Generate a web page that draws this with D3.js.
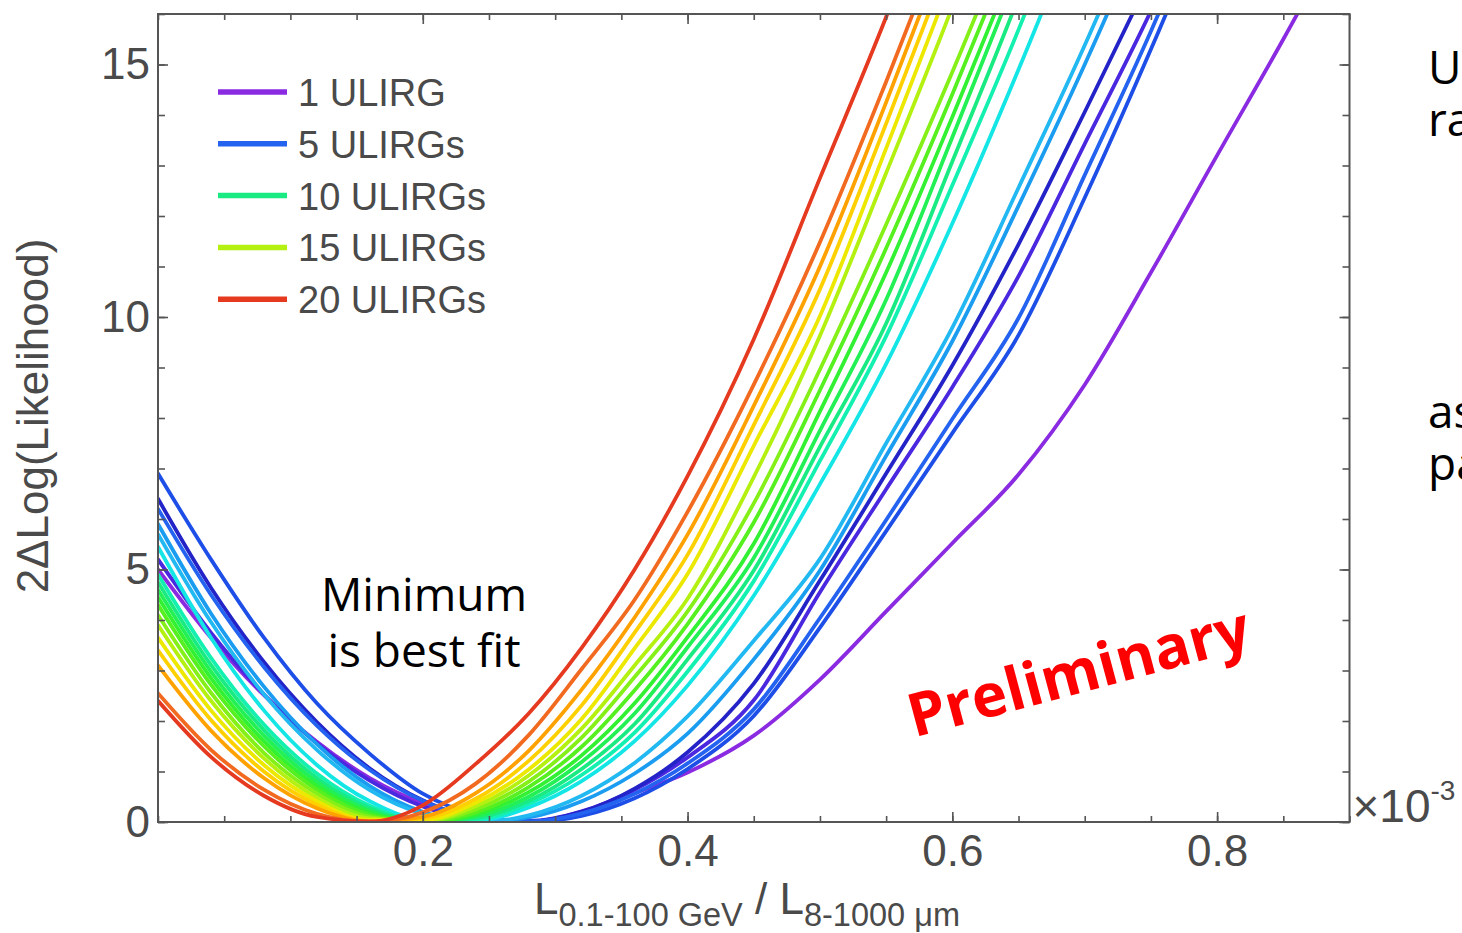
<!DOCTYPE html>
<html>
<head>
<meta charset="utf-8">
<script src="https://cdn.jsdelivr.net/npm/d3@7"></script>
<style>
  html, body { margin: 0; padding: 0; background: #fff; overflow: hidden; }
  svg { display: block; }
</style>
</head>
<body>
<svg id="chart" width="1462" height="933"></svg>
<script>
// Gamma-ray / IR luminosity ratio (x 10^-3) at which every profile is sampled
const ratioGrid = [0, 0.04, 0.08, 0.12, 0.16, 0.2, 0.24, 0.28, 0.32, 0.36, 0.4,
                   0.45, 0.5, 0.55, 0.6, 0.65, 0.7, 0.75, 0.8, 0.85, 0.9];

// 2ΔLog(Likelihood) profiles, one per number of stacked ULIRGs
const stack01 = [5.0, 3.65, 2.51, 1.59, 0.87, 0.37, 0.08, 0.0, 0.2, 0.57, 0.98, 1.71, 2.82, 4.17, 5.52, 6.88, 8.66, 10.88, 13.2, 15.5, 17.9];
const stack02 = [5.2, 3.75, 2.53, 1.56, 0.82, 0.31, 0.05, 0.02, 0.21, 0.64, 1.28, 2.41, 4.55, 6.59, 8.61, 10.81, 13.43, 16.06, 19.0];
const stack03 = [6.4, 4.64, 3.17, 1.98, 1.06, 0.43, 0.08, 0.01, 0.20, 0.66, 1.38, 2.74, 4.78, 6.90, 9.04, 11.44, 14.06, 16.75];
const stack04 = [6.9, 5.2, 3.65, 2.35, 1.35, 0.56, 0.14, 0.0, 0.12, 0.47, 1.05, 2.10, 3.85, 5.76, 7.70, 9.64, 12.36, 15.3, 18.43];
const stack05 = [6.2, 4.50, 3.07, 1.91, 1.03, 0.42, 0.08, 0.01, 0.17, 0.56, 1.16, 2.23, 4.04, 5.98, 7.98, 9.98, 12.81, 15.66, 18.77];
const stack06 = [5.9, 4.13, 2.68, 1.54, 0.71, 0.20, 0.0, 0.09, 0.41, 0.96, 1.75, 3.22, 4.98, 7.25, 9.52, 12.2, 15.0, 17.98];
const stack07 = [5.7, 3.96, 2.53, 1.43, 0.63, 0.16, 0.0, 0.13, 0.52, 1.17, 2.09, 3.59, 5.21, 7.50, 9.79, 12.56, 15.38, 18.42];
const stack08 = [5.45, 3.65, 2.21, 1.13, 0.41, 0.05, 0.03, 0.29, 0.81, 1.60, 2.70, 4.48, 6.69, 9.07, 11.85, 14.9, 18.14];
const stack09 = [4.9, 3.25, 1.93, 0.96, 0.32, 0.02, 0.05, 0.36, 0.93, 1.77, 2.98, 4.77, 7.15, 9.62, 12.61, 15.69, 19.06];
const stack10 = [4.75, 3.11, 1.82, 0.87, 0.27, 0.01, 0.08, 0.42, 1.05, 1.94, 3.22, 4.98, 7.43, 9.87, 13.08, 16.33, 19.96];
const stack11 = [4.6, 2.98, 1.71, 0.79, 0.22, 0.0, 0.11, 0.50, 1.19, 2.15, 3.46, 5.23, 7.75, 10.34, 13.56, 16.84];
const stack12 = [4.45, 2.85, 1.60, 0.71, 0.18, 0.0, 0.15, 0.59, 1.32, 2.35, 3.66, 5.51, 8.13, 10.88, 13.96, 17.16];
const stack13 = [4.3, 2.72, 1.50, 0.64, 0.14, 0.0, 0.19, 0.69, 1.49, 2.61, 3.92, 5.93, 8.55, 11.36, 14.41, 17.61];
const stack14 = [4.1, 2.56, 1.37, 0.56, 0.10, 0.01, 0.25, 0.80, 1.67, 2.87, 4.17, 6.31, 8.96, 11.83, 14.85, 18.05];
const stack15 = [3.9, 2.40, 1.26, 0.48, 0.07, 0.02, 0.31, 0.92, 1.85, 3.10, 4.42, 6.83, 9.63, 12.85, 16.14, 19.7];
const stack16 = [3.65, 2.21, 1.13, 0.41, 0.04, 0.04, 0.38, 1.04, 2.04, 3.44, 4.91, 7.45, 10.02, 13.34, 16.73];
const stack17 = [3.4, 2.02, 1.00, 0.34, 0.02, 0.07, 0.46, 1.21, 2.31, 3.75, 5.29, 7.86, 10.55, 13.83, 17.22];
const stack18 = [3.1, 1.81, 0.87, 0.27, 0.01, 0.10, 0.57, 1.41, 2.62, 4.05, 5.69, 8.24, 11.0, 14.25, 17.66];
const stack19 = [2.55, 1.43, 0.64, 0.16, 0.0, 0.19, 0.76, 1.72, 3.03, 4.40, 6.14, 8.66, 11.48, 14.66, 18.0];
const stack20 = [2.4, 1.29, 0.52, 0.10, 0.01, 0.33, 1.15, 2.15, 3.45, 5.00, 6.85, 9.56, 12.75, 15.94, 19.4];

const stackCounts = [1, 2, 3, 4, 5, 6, 7, 8, 9, 10, 11, 12, 13, 14, 15, 16, 17, 18, 19, 20];
const stackProfiles = [stack01, stack02, stack03, stack04, stack05, stack06, stack07, stack08, stack09, stack10,
                       stack11, stack12, stack13, stack14, stack15, stack16, stack17, stack18, stack19, stack20];
const stackColors = ["#8a2be2", "#4a28e0", "#2323c8", "#1d4fe8", "#2462f0", "#1a9cf0", "#22b8f2", "#14e6e6",
                     "#14f0b0", "#1aea82", "#22f054", "#32f032", "#56f020", "#84f018", "#b4f010", "#ece800",
                     "#ffd000", "#ffa200", "#f26a20", "#e63a20"];

// Legend
const legendCounts = [1, 5, 10, 15, 20];
const legendLabels = ["1 ULIRG", "5 ULIRGs", "10 ULIRGs", "15 ULIRGs", "20 ULIRGs"];

// Axis tick labels
const xTickLabels = [0.2, 0.4, 0.6, 0.8];
const yTickLabels = [0, 5, 10, 15];

const svg = d3.select("#chart");
const plotLeft = 158, plotRight = 1349.5, plotTop = 14, plotBottom = 822;
const axisFont = "'Liberation Sans', Arial, sans-serif";
const textFont = "'Open Sans', 'Noto Sans', sans-serif";
const axisInk = "#4a4a4a";

const x = d3.scaleLinear().domain([0, 0.9]).range([plotLeft, plotRight]);
const y = d3.scaleLinear().domain([0, 16]).range([plotBottom, plotTop]);

svg.append("rect").attr("width", 1462).attr("height", 933).attr("fill", "#fff");

svg.append("defs").append("clipPath").attr("id", "plot-clip")
  .append("rect").attr("x", plotLeft).attr("y", plotTop)
  .attr("width", plotRight - plotLeft).attr("height", plotBottom - plotTop);

// Likelihood profiles
const line = d3.line()
  .x((d, i) => x(ratioGrid[i]))
  .y(d => y(d))
  .curve(d3.curveMonotoneX);

svg.append("g").attr("clip-path", "url(#plot-clip)")
  .selectAll("path")
  .data(stackProfiles)
  .join("path")
  .attr("d", line)
  .attr("fill", "none")
  .attr("stroke", (d, i) => stackColors[i])
  .attr("stroke-width", 3.8)
  .attr("stroke-linejoin", "round")
  .attr("stroke-linecap", "round");

// Axes: inward ticks on all four sides, labels on left and bottom
const xMinor = d3.range(0, 0.9001, 0.05);
const yMinor = d3.range(0, 16.5, 1);

function styleAxis(g) {
  g.select(".domain").remove();
  g.selectAll(".tick line").attr("stroke", "#555").attr("stroke-width", 1.6);
  g.selectAll(".tick text").attr("fill", axisInk)
    .attr("font-family", axisFont).attr("font-size", 44);
}

svg.append("g").attr("transform", `translate(0,${plotBottom})`)
  .call(d3.axisBottom(x).tickValues(xMinor).tickSize(-6).tickFormat(""))
  .call(styleAxis);
svg.append("g").attr("transform", `translate(0,${plotBottom})`)
  .call(d3.axisBottom(x).tickValues(xTickLabels).tickSize(-10).tickPadding(12).tickFormat(d3.format(".1f")))
  .call(styleAxis)
  .selectAll(".tick text").attr("dy", "0.72em");

svg.append("g").attr("transform", `translate(0,${plotTop})`)
  .call(d3.axisTop(x).tickValues(xMinor).tickSize(-6).tickFormat(""))
  .call(styleAxis);
svg.append("g").attr("transform", `translate(0,${plotTop})`)
  .call(d3.axisTop(x).tickValues(xTickLabels).tickSize(-10).tickFormat(""))
  .call(styleAxis);

svg.append("g").attr("transform", `translate(${plotLeft},0)`)
  .call(d3.axisLeft(y).tickValues(yMinor).tickSize(-7).tickFormat(""))
  .call(styleAxis);
svg.append("g").attr("transform", `translate(${plotLeft},0)`)
  .call(d3.axisLeft(y).tickValues(yTickLabels).tickSize(-10).tickPadding(8).tickFormat(d3.format("d")))
  .call(styleAxis);

svg.append("g").attr("transform", `translate(${plotRight},0)`)
  .call(d3.axisRight(y).tickValues(yMinor).tickSize(-7).tickFormat(""))
  .call(styleAxis);
svg.append("g").attr("transform", `translate(${plotRight},0)`)
  .call(d3.axisRight(y).tickValues(yTickLabels).tickSize(-10).tickFormat(""))
  .call(styleAxis);

// Plot frame
svg.append("rect")
  .attr("x", plotLeft).attr("y", plotTop)
  .attr("width", plotRight - plotLeft).attr("height", plotBottom - plotTop)
  .attr("fill", "none").attr("stroke", "#555").attr("stroke-width", 2);

// Axis scale multiplier
const mult = svg.append("text")
  .attr("x", plotRight + 3).attr("y", plotBottom)
  .attr("font-family", axisFont).attr("font-size", 46).attr("fill", axisInk);
mult.append("tspan").text("×10");
mult.append("tspan").attr("font-size", 28).attr("dy", -22).text("-3");

// Axis titles
svg.append("text")
  .attr("transform", "translate(48,416) rotate(-90)")
  .attr("text-anchor", "middle")
  .attr("font-family", axisFont).attr("font-size", 44).attr("fill", axisInk)
  .text("2ΔLog(Likelihood)");

const xTitle = svg.append("text")
  .attr("x", 534).attr("y", 914)
  .attr("font-family", axisFont).attr("font-size", 44).attr("fill", axisInk);
xTitle.append("tspan").text("L");
xTitle.append("tspan").attr("font-size", 32.5).attr("dy", 12).text("0.1-100 GeV");
xTitle.append("tspan").attr("dy", -12).text(" / L");
xTitle.append("tspan").attr("font-size", 32.5).attr("dy", 12).text("8-1000 μm");

// Legend
const legend = svg.append("g");
legendCounts.forEach((n, i) => {
  const ly = 92 + i * 51.8;
  legend.append("line")
    .attr("x1", 218).attr("x2", 287).attr("y1", ly).attr("y2", ly)
    .attr("stroke", stackColors[stackCounts.indexOf(n)]).attr("stroke-width", 5.5);
  legend.append("text")
    .attr("x", 298).attr("y", ly + 14)
    .attr("font-family", axisFont).attr("font-size", 38).attr("fill", axisInk)
    .text(legendLabels[i]);
});

// Annotations
const note = svg.append("text")
  .attr("text-anchor", "middle")
  .attr("font-family", textFont).attr("font-size", 46).attr("fill", "#000");
note.append("tspan").attr("x", 424).attr("y", 611).text("Minimum");
note.append("tspan").attr("x", 424).attr("y", 667).text("is best fit");

svg.append("text")
  .attr("transform", "translate(1084,692) rotate(-15)")
  .attr("text-anchor", "middle")
  .attr("font-family", textFont).attr("font-weight", 700)
  .attr("font-size", 60).attr("fill", "#ff0000")
  .text("Preliminary");

// Slide text running in from the right, two lines per block
const sideBlocks = [[["U", 84], ["ra", 136]], [["as", 428], ["pa", 480]]];
sideBlocks.forEach(block => {
  const t = svg.append("text")
    .attr("font-family", textFont).attr("font-size", 46).attr("fill", "#000");
  block.forEach(([s, by]) => t.append("tspan").attr("x", 1428).attr("y", by).text(s));
});
</script>
</body>
</html>
